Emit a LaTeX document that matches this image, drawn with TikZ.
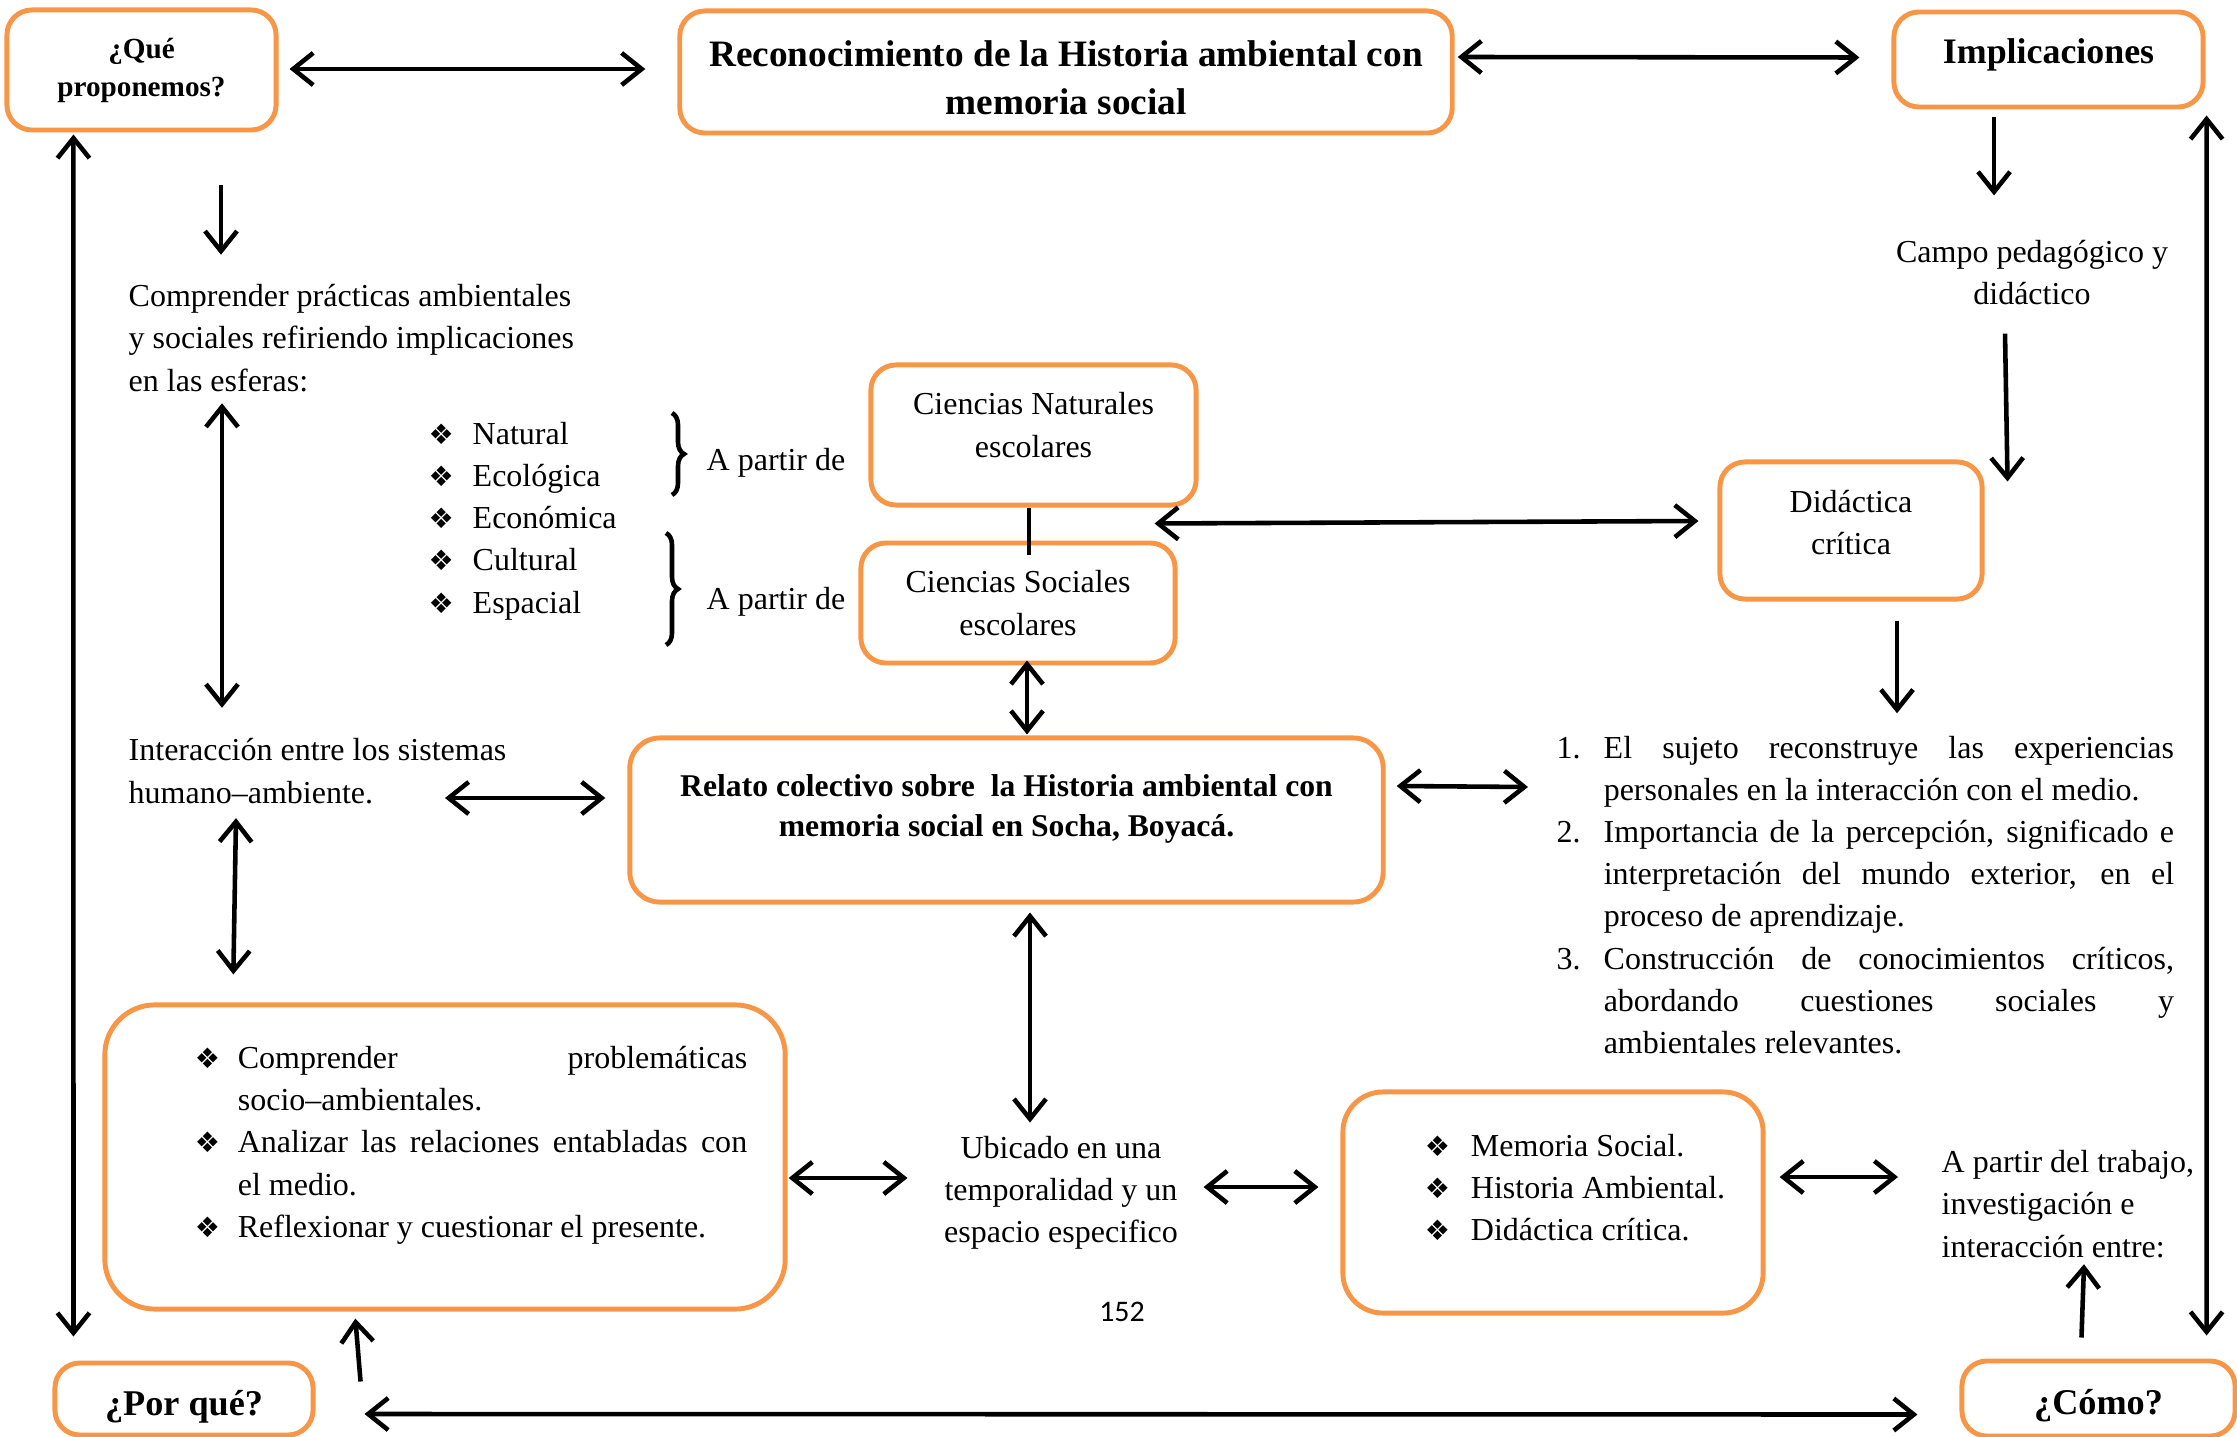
\documentclass[tikz,border=0pt]{standalone}
\usepackage{fontspec}
\setmainfont{Liberation Serif}
\newfontfamily\simbolo{DejaVu Sans}
\newfontfamily\calibri{Carlito}
\usetikzlibrary{arrows.meta,calc,decorations.pathreplacing}
\definecolor{naranja}{HTML}{F79646}
\hyphenpenalty=10000
\exhyphenpenalty=10000
\tolerance=9999

\newcommand{\cuerpo}{\fontsize{9.1}{12}\selectfont}
\newcommand{\vineta}[1][0.44cm]{\makebox[#1][l]{\simbolo\fontsize{8}{8}\selectfont ❖}}
\newcommand{\punto}[2][0.43cm]{\hangindent=#1\hangafter=1\noindent\vineta[#1]#2\par}
\newcommand{\numero}[2]{\hangindent=0.47cm\hangafter=1\noindent\makebox[0.47cm][l]{#1}#2\par}

\tikzset{
  caja/.style={draw=naranja, line width=1.4pt, rounded corners=0.25cm,
    inner sep=0pt, align=center, font=\cuerpo},
  texto/.style={inner sep=0pt, align=left, font=\cuerpo},
  flecha/.style={-{Straight Barb[length=2mm,width=3.2mm]}, line width=1.3pt},
  doble/.style={{Straight Barb[length=2mm,width=3.2mm]}-{Straight Barb[length=2mm,width=3.2mm]},
    line width=1.3pt},
  llave/.style={line width=1.3pt, decorate, decoration={brace, amplitude=0.12cm}}
}

\begin{document}
\begin{tikzpicture}[x=0.01cm,y=-0.01cm]
\useasboundingbox (0,0) rectangle (2237,1437);

% Cajas superiores
\node[caja, minimum width=2.69cm, minimum height=1.2cm,
  font=\bfseries\fontsize{8.3}{10.8}\selectfont] (que)
at (141.5,70)
{¿Qué\\proponemos?};

\node[caja, minimum width=7.72cm, minimum height=1.22cm, text height=0.86cm,
  font=\bfseries\fontsize{10.6}{13.7}\selectfont] (reco)
at (1066,72)
{Reconocimiento de la Historia ambiental con\\memoria social};

\node[caja, minimum width=3.09cm, minimum height=0.95cm, text depth=0.16cm,
  font=\bfseries\fontsize{10.2}{12}\selectfont] (impl)
at (2048.5,59.5)
{Implicaciones};

% Columna izquierda
\node[texto, anchor=west] (compr)
at (128,338)
{Comprender prácticas ambientales\\y sociales refiriendo implicaciones\\en las esferas:};

\node[texto, anchor=west] (inter)
at (128,771)
{Interacción entre los sistemas\\humano–ambiente.};

% Esferas
\node[texto, anchor=west] (esferas)
at (428,521)
{\vineta Natural\\\vineta Ecológica\\\vineta Económica\\\vineta Cultural\\\vineta Espacial};

\draw[llave]
(672,413)
--
(672,495);

\draw[llave]
(666,533)
--
(666,645);

\node[texto, anchor=west] (partirA)
at (706,463)
{A partir de};

\node[texto, anchor=west] (partirB)
at (706,602)
{A partir de};

% Ciencias escolares
\node[caja, minimum width=3.25cm, minimum height=1.4cm, text depth=0.2cm] (natur)
at (1033.5,435)
{Ciencias Naturales\\escolares};

\node[caja, minimum width=3.14cm, minimum height=1.2cm] (socia)
at (1018,603)
{Ciencias Sociales\\escolares};

% Columna derecha
\node[texto, align=center] (campo)
at (2032,272.5)
{Campo pedagógico y\\didáctico};

\node[caja, minimum width=2.62cm, minimum height=1.37cm, text depth=0.17cm] (didac)
at (1851,530.5)
{Didáctica\\crítica};

\node[texto, anchor=west, text width=6.17cm, align=justify] (lista)
at (1556,895)
{\numero{1.}{El sujeto reconstruye las experiencias\linebreak personales en la interacción con el medio.}%
\numero{2.}{Importancia de la percepción, significado e\linebreak interpretación del mundo exterior, en el\linebreak proceso de aprendizaje.}%
\numero{3.}{Construcción de conocimientos críticos,\linebreak abordando cuestiones sociales y\linebreak ambientales relevantes.}};

% Relato
\node[caja, minimum width=7.53cm, minimum height=1.64cm, rounded corners=0.3cm,
  text depth=0.29cm, font=\bfseries\fontsize{9}{11.4}\selectfont] (relato)
at (1006.5,820)
{Relato colectivo sobre\ \ la Historia ambiental con\\memoria social en Socha, Boyacá.};

% Fila inferior
\node[caja, minimum width=6.8cm, minimum height=3.04cm, rounded corners=0.5cm,
  text width=6.04cm, align=justify, text depth=1.99cm] (objetivos)
at (445,1157)
{\leftskip=0.52cm
\punto{Comprender problemáticas\linebreak \mbox{socio–ambientales.}}%
\punto{Analizar las relaciones entabladas con\linebreak el medio.}%
\punto{Reflexionar y cuestionar el presente.}};

\node[texto, align=center] (ubicado)
at (1061,1193)
{Ubicado en una\\temporalidad y un\\espacio especifico};

\node[caja, minimum width=4.2cm, minimum height=2.21cm, rounded corners=0.4cm,
  text width=3.6cm, align=flush left, text depth=1.15cm] (memoria)
at (1553,1202.5)
{\leftskip=0.52cm
\punto[0.46cm]{Memoria Social.}%
\punto[0.46cm]{Historia Ambiental.}%
\punto[0.46cm]{Didáctica crítica.}};

\node[texto, anchor=west] (partirC)
at (1941,1204)
{A partir del trabajo,\\investigación e\\interacción entre:};

\node[inner sep=0pt, font=\calibri\fontsize{8.5}{10}\selectfont] (pagina)
at (1122,1312)
{152};

\node[caja, minimum width=2.58cm, minimum height=0.72cm, text height=0.41cm,
  font=\bfseries\fontsize{10.3}{12}\selectfont] (porque)
at (184,1399)
{¿Por qué?};

\node[caja, minimum width=2.73cm, minimum height=0.75cm, text height=0.39cm,
  font=\bfseries\fontsize{10.3}{12}\selectfont] (como)
at (2098.5,1398.5)
{¿Cómo?};

% Flechas superiores
\draw[doble]
($(que.east)+(11,-1)$)
--
($(reco.west)+(-32,-3)$);

\draw[doble]
($(reco.east)+(3,-15)$)
--
($(impl.west)+(-32,-2)$);

% Flechas izquierda
\draw[flecha]
($(que.south)+(79.5,53)$)
--
($(compr.north west)+(93,-29)$);

\draw[doble]
($(compr.south west)+(94,11)$)
--
($(inter.north west)+(94,-30)$);

\draw[doble]
($(que.south west)+(69,2)$)
--
($(porque.north west)+(21,-24)$);

\draw[doble]
($(inter.west)+(317,27)$)
--
($(relato.west)+(-22,-22)$);

\draw[doble]
($(inter.south west)+(108,14)$)
--
($(objetivos.north west)+(131,-28)$);

\draw[flecha]
($(porque.north east)+(45,21)$)
--
($(objetivos.south west)+(253,7)$);

\draw[doble]
($(porque.east)+(49,15)$)
--
($(como.west)+(-42,16)$);

% Flechas centro
\draw[line width=1.3pt]
($(natur.south)+(-4.5,0)$)
--
($(socia.north)+(11,14)$);

\draw[doble]
($(natur.south east)+(-44,16)$)
--
($(didac.west)+(-19,-9.5)$);

\draw[doble]
($(socia.south)+(9,-5)$)
--
($(relato.north)+(20.5,-1)$);

\draw[doble]
($(relato.south)+(23.5,8)$)
--
($(ubicado.north)+(-31,-13)$);

\draw[doble]
($(objetivos.east)+(1,21)$)
--
($(ubicado.west)+(-36,-15)$);

\draw[doble]
($(ubicado.east)+(25,-6)$)
--
($(memoria.west)+(-22,-15.5)$);

\draw[doble]
($(memoria.east)+(14,-25.5)$)
--
($(partirC.west)+(-43,-27)$);

\draw[flecha]
($(como.north west)+(122,-21)$)
--
($(partirC.south west)+(143,6)$);

% Flechas derecha
\draw[flecha]
($(impl.south)+(-54.5,8)$)
--
($(campo.north)+(-38,-44)$);

\draw[flecha]
($(campo.south)+(-27,28)$)
--
($(didac.north east)+(23,22)$);

\draw[flecha]
($(didac.south)+(46,19)$)
--
($(lista.north west)+(341,-22)$);

\draw[doble]
($(relato.east)+(11,-34)$)
--
($(lista.west)+(-28,-108)$);

\draw[doble]
($(impl.south east)+(1,6)$)
--
($(como.north east)+(-31,-23)$);

\end{tikzpicture}
\end{document}
